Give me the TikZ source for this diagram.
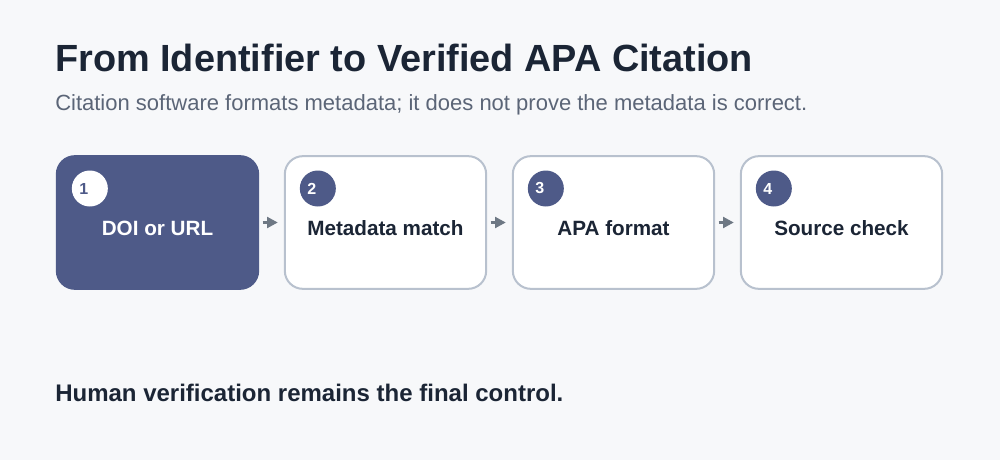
\documentclass[tikz,border=0pt]{standalone}
\usepackage{fontspec}
\setmainfont{Liberation Sans}
\usepackage{xcolor}
\usetikzlibrary{positioning, arrows.meta}

\definecolor{pagebg}{HTML}{F7F8FA}
\definecolor{navy}{HTML}{4E5A88}
\definecolor{ink}{HTML}{1B2535}
\definecolor{muted}{HTML}{5B6577}
\definecolor{edge}{HTML}{B8C1CE}
\definecolor{arrowgray}{HTML}{6E7884}

\begin{document}
\begin{tikzpicture}[
    x=0.75pt, y=-0.75pt,
    stage/.style={rectangle, rounded corners=13.5pt, draw=edge, line width=1.5pt, fill=white,
        minimum width=151pt, minimum height=99.5pt, inner sep=0pt},
    firststage/.style={stage, draw=navy, fill=navy},
    badge/.style={circle, fill=navy, minimum size=27pt, inner sep=0pt},
    stagelabel/.style={font=\bfseries\fontsize{15.5}{18}\selectfont, text=ink},
    badgenum/.style={font=\bfseries\fontsize{12}{14}\selectfont, text=white},
    flow/.style={-{Triangle[length=8pt, width=8pt]}, draw=arrowgray, line width=2.2pt,
        shorten <=2.5pt, shorten >=4.5pt}
]
\fill[pagebg] (0,0) rectangle (1000,460);
\useasboundingbox (0,0) rectangle (1000,460);

% heading
\node[anchor=base west, inner sep=0pt, text=ink, font=\bfseries\fontsize{28.4}{34}\selectfont] (title) at (55,72) {From Identifier to Verified APA Citation};
\node[anchor=base west, inner sep=0pt, text=muted, font=\fontsize{16.5}{20}\selectfont] (subtitle) at (55,110) {Citation software formats metadata; it does not prove the metadata is correct.};

% steps
\node[firststage] (doi) at (157.5,222.5) {};
\node[stage, right=18.5pt of doi] (meta) {};
\node[stage, right=18.5pt of meta] (apa) {};
\node[stage, right=18.5pt of apa] (check) {};

\node[stagelabel, text=white] at ([yshift=-4.5pt]doi.center) {DOI or URL};
\node[stagelabel] at ([yshift=-4.5pt]meta.center) {Metadata match};
\node[stagelabel] at ([yshift=-4.5pt]apa.center) {APA format};
\node[stagelabel] at ([yshift=-4.5pt]check.center) {Source check};

% numbers
\node[badge, fill=white] (b1) at ([xshift=25.5pt, yshift=-25pt]doi.north west) {};
\node[badge] (b2) at ([xshift=25.5pt, yshift=-25pt]meta.north west) {};
\node[badge] (b3) at ([xshift=25.5pt, yshift=-25pt]apa.north west) {};
\node[badge] (b4) at ([xshift=25.5pt, yshift=-25pt]check.north west) {};
\node[badgenum, text=navy] at ([xshift=-4.5pt]b1.center) {1};
\node[badgenum] at ([xshift=-4.5pt]b2.center) {2};
\node[badgenum] at ([xshift=-4.5pt]b3.center) {3};
\node[badgenum] at ([xshift=-4.5pt]b4.center) {4};

\draw[flow] (doi) -- (meta);
\draw[flow] (meta) -- (apa);
\draw[flow] (apa) -- (check);

% closing line
\node[anchor=base west, inner sep=0pt, text=ink, font=\bfseries\fontsize{18}{22}\selectfont] (footer) at (55,401) {Human verification remains the final control.};

\end{tikzpicture}
\end{document}
